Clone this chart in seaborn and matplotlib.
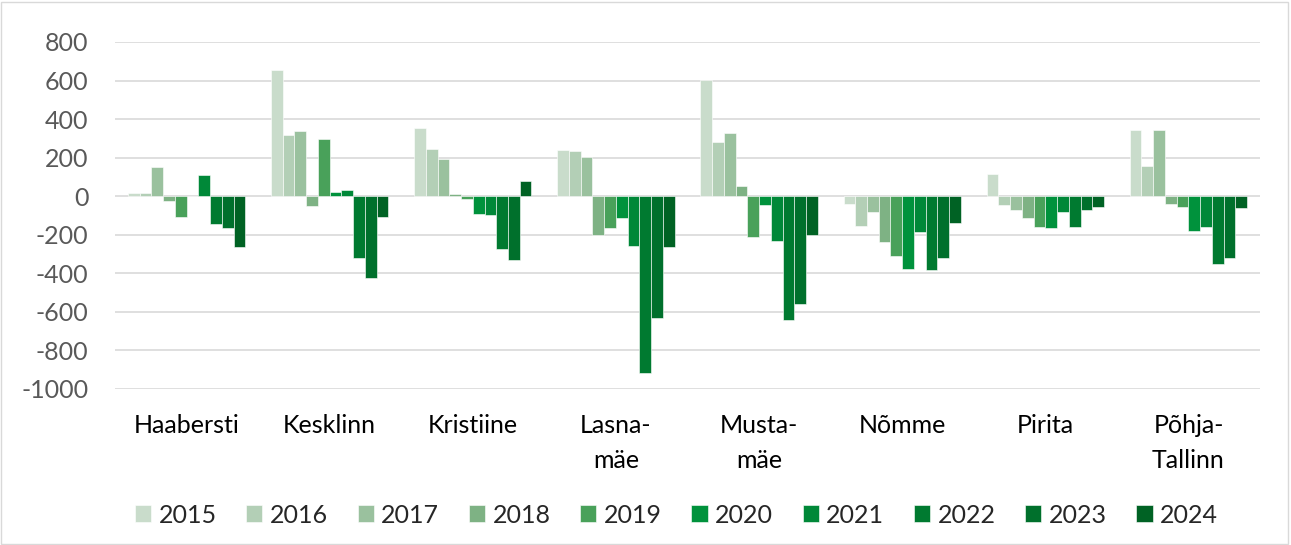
import numpy as np
import pandas as pd
import matplotlib
matplotlib.use("Agg")
import matplotlib.pyplot as plt
import seaborn as sns

districts = ["Haabersti", "Kesklinn", "Kristiine", "Lasna-\nmäe", "Musta-\nmäe",
             "Nõmme", "Pirita", "Põhja-\nTallinn"]
years = ["2015", "2016", "2017", "2018", "2019", "2020", "2021", "2022", "2023", "2024"]

# net migration per district, one list per year (order of districts above)
v2015 = [17, 656, 352, 240, 601, -41, 116, 344]
v2016 = [17, 318, 243, 237, 283, -154, -48, 155]
v2017 = [154, 340, 193, 202, 330, -83, -71, 344]
v2018 = [-26, -52, 12, -200, 54, -235, -112, -38]
v2019 = [-109, 299, -12, -166, -212, -309, -161, -54]
v2020 = [0, 21, -93, -114, -43, -378, -166, -181]
v2021 = [110, 33, -97, -256, -233, -188, -83, -159]
v2022 = [-142, -318, -273, -915, -641, -385, -162, -352]
v2023 = [-166, -423, -333, -630, -560, -320, -73, -321]
v2024 = [-262, -110, 80, -262, -199, -140, -55, -60]

series = [v2015, v2016, v2017, v2018, v2019, v2020, v2021, v2022, v2023, v2024]
colors = ["#C9DCCB", "#B3CFB6", "#9AC19E", "#7EB284", "#49A15A",
          "#00923C", "#008838", "#007A30", "#00702C", "#006224"]

rows = []
for y, vals in zip(years, series):
    for d, v in zip(districts, vals):
        rows.append({"district": d, "year": y, "value": v})
df = pd.DataFrame(rows)

sns.set_style("white")
plt.rcParams["font.family"] = ["Lato", "DejaVu Sans"]
plt.rcParams["axes.unicode_minus"] = False

fig = plt.figure(figsize=(12.91, 5.45), dpi=100)
ax = fig.add_axes([115 / 1291, 1 - 389 / 545, 1145 / 1291, 347 / 545])

sns.barplot(data=df, x="district", y="value", hue="year", order=districts,
            hue_order=years, palette=colors, width=0.82, saturation=1,
            edgecolor="white", linewidth=0.4, ax=ax, legend=True)

ax.set_ylim(-1000, 800)
ax.set_yticks(np.arange(-1000, 801, 200))
ax.set_xlim(-0.5, len(districts) - 0.5)
ax.yaxis.grid(True, color="#D9D9D9", linewidth=1.2)
ax.set_axisbelow(True)
for s in ax.spines.values():
    s.set_visible(False)
ax.set_xlabel("")
ax.set_ylabel("")
ax.tick_params(axis="y", length=0, pad=19, labelsize=18, labelcolor="#595959")
ax.tick_params(axis="x", length=0, pad=18, labelsize=18, labelcolor="#000000")
for lbl in ax.get_xticklabels():
    lbl.set_linespacing(1.65)

handles, labels = ax.get_legend_handles_labels()
ax.get_legend().remove()
fig.legend(handles, labels, loc="center", bbox_to_anchor=(0.524, 0.055), ncol=10,
           frameon=False, fontsize=18, handlelength=0.65, handleheight=0.65,
           handletextpad=0.3, columnspacing=1.18)

fig.patches.append(plt.Rectangle((0.001, 0.002), 0.997, 0.995, transform=fig.transFigure,
                                 fill=False, edgecolor="#D9D9D9", linewidth=1))

fig.savefig("out.png", dpi=100)
